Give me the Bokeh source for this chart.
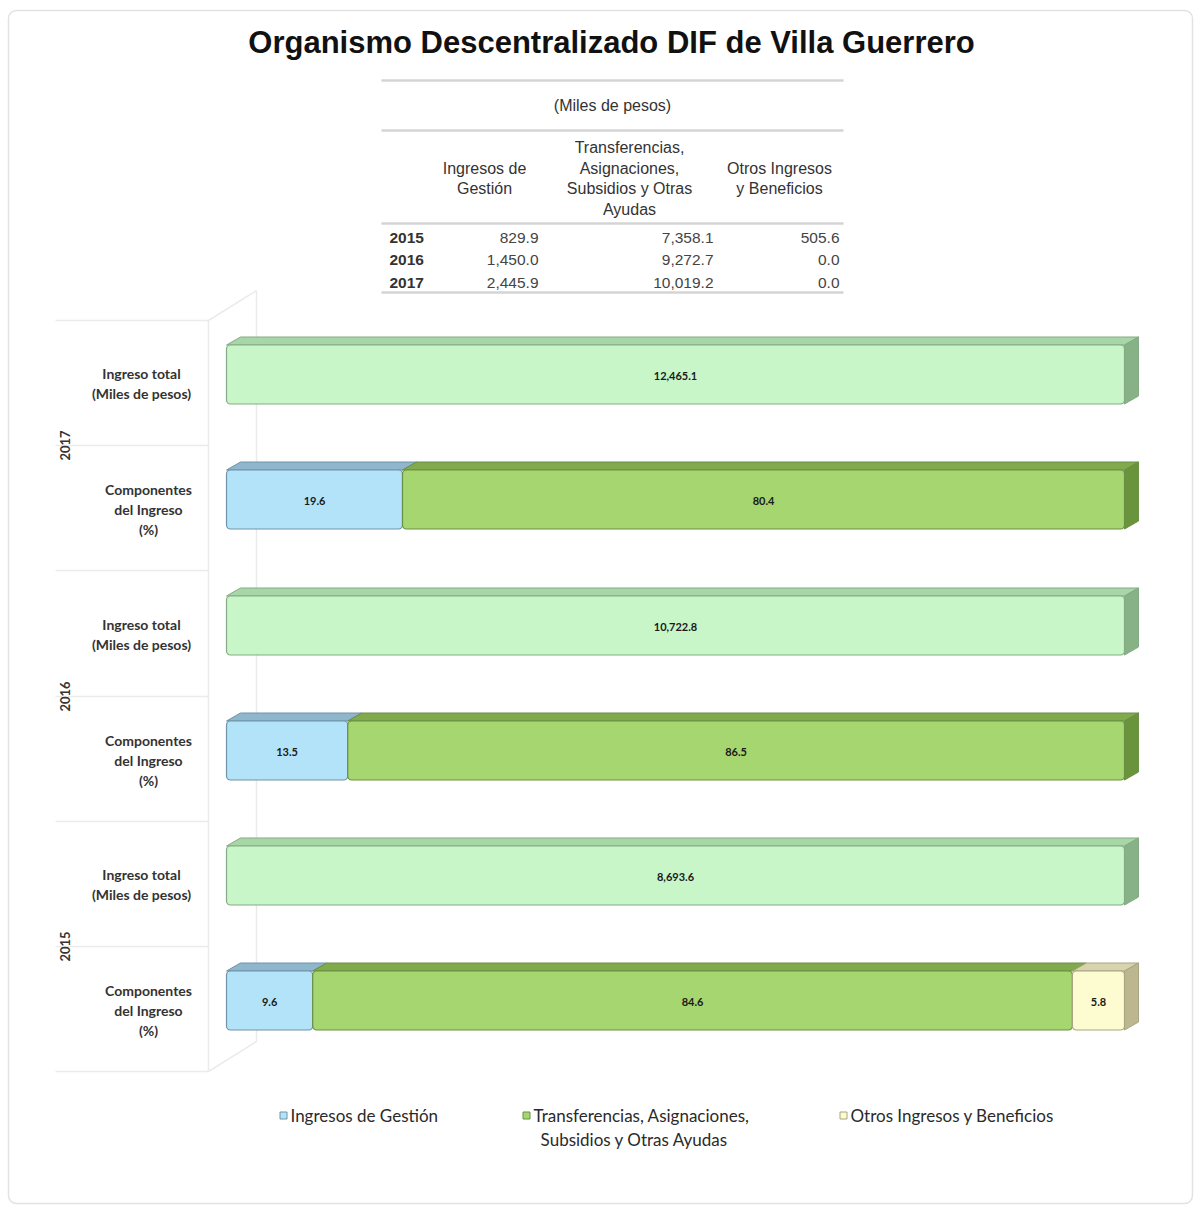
import math
from bokeh.plotting import figure
from bokeh.models import Range1d
from bokeh.core.properties import value
from bokeh.embed import file_html
from bokeh.resources import INLINE

# ---------------- data ----------------
title_text = "Organismo Descentralizado DIF de Villa Guerrero"
years = ["2015", "2016", "2017"]
ingresos_gestion = [829.9, 1450.0, 2445.9]
transferencias = [7358.1, 9272.7, 10019.2]
otros_ingresos = [505.6, 0.0, 0.0]
ingreso_total = [8693.6, 10722.8, 12465.1]
pct_gestion = [9.6, 13.5, 19.6]
pct_transferencias = [84.6, 86.5, 80.4]
pct_otros = [5.8, 0.0, 0.0]
table_unit = "(Miles de pesos)"
table_headers = ["Ingresos de\nGestión", "Transferencias,\nAsignaciones,\nSubsidios y Otras\nAyudas", "Otros Ingresos\ny Beneficios"]
row_labels = ["Ingreso total\n(Miles de pesos)", "Componentes\ndel Ingreso\n(%)"]
legend_labels = ["Ingresos de Gestión", "Transferencias, Asignaciones,", "Otros Ingresos y Beneficios"]
legend_line2 = "Subsidios y Otras Ayudas"

# ---------------- layout ----------------
W, H = 1198, 1207
OFF = 8
X0PX, X100PX = 218, 1116
PXU = (X100PX - X0PX) / 100.0


def X(fx):
    return (fx - X0PX) / PXU


DX = 14 / PXU
DY = 8
HALF = 29.5

p = figure(width=W, height=H, x_range=Range1d(X(-OFF), X(W - OFF)), y_range=Range1d(H - OFF, -OFF),
           output_backend="svg", toolbar_location=None, x_axis_type=None, y_axis_type=None,
           min_border=0)
p.outline_line_color = None
p.background_fill_color = "white"
p.border_fill_color = "white"
p.grid.visible = False

# panel border
p.quad(left=[X(0)], right=[X(1184)], top=[2], bottom=[1195], fill_color=None,
       line_color="#e2e2e2", line_width=1.5, border_radius=8)

# title
p.text(x=[X(603)], y=[34], text=[title_text], text_font=value("Liberation Sans"),
       text_font_style="bold", text_font_size="31px", text_align="center",
       text_baseline="middle", text_color="#111111")

# ---------------- table ----------------
tfont = value("Liberation Sans")
for fy in [72, 122, 215, 284]:
    p.segment(x0=[X(373)], x1=[X(835)], y0=[fy], y1=[fy], line_color="#d4d4d4", line_width=2.5)
p.text(x=[X(604)], y=[97], text=[table_unit], text_font=tfont,
       text_font_size="16px", text_align="center", text_baseline="middle", text_color="#333333")
p.text(x=[X(476), X(621), X(771)], y=[170, 170, 170], text=table_headers,
       text_font=tfont, text_font_size="16px", text_align="center",
       text_baseline="middle", text_color="#333333", text_line_height=1.2)
row_y = [229, 251, 274]
cols = [ingresos_gestion, transferencias, otros_ingresos]
col_right = [530, 705, 831]
p.text(x=[X(381)] * 3, y=row_y, text=years, text_font=tfont,
       text_font_style="bold", text_font_size="15.5px", text_align="left",
       text_baseline="middle", text_color="#333333")
for c, xr in zip(cols, col_right):
    p.text(x=[X(xr)] * 3, y=row_y, text=[f"{v:,.1f}" for v in c],
           text_font=tfont, text_font_size="15.5px", text_align="right",
           text_baseline="middle", text_color="#444444")

# ---------------- left grid (3D wall) ----------------
grid_c = "#ebebeb"
hy = [312, 437, 562, 688, 813, 938, 1063]
p.segment(x0=[X(47)] * len(hy), x1=[X(200)] * len(hy), y0=hy, y1=hy, line_color=grid_c, line_width=1.5)
p.segment(x0=[X(200), X(248), X(200), X(200)], x1=[X(200), X(248), X(248), X(248)],
          y0=[312, 282, 312, 1063], y1=[1063, 1033, 282, 1033], line_color=grid_c, line_width=1.5)

# ---------------- bars ----------------
y_total = {"2017": 366, "2016": 617, "2015": 867}
colors = {
    "total": ("#c8f6c8", "#a7d6a7", "#86b286", "#86a986"),
    "gest": ("#b3e3f8", "#8fb6cc", "#7aa0b6", "#6f93a8"),
    "transf": ("#a6d66f", "#80aa4c", "#6a943c", "#6a8f45"),
    "otros": ("#fdfbd0", "#d8d4ad", "#bdb78f", "#a9a482"),
}

fronts = dict(l=[], r=[], t=[], b=[], fc=[], lc=[])
tops = dict(xs=[], ys=[], fc=[], lc=[])
sides = dict(xs=[], ys=[], fc=[], lc=[])
labels = dict(x=[], y=[], t=[])

for i, yr in enumerate(years):
    yt_c = y_total[yr]
    yc_c = yt_c + 125
    rows = [
        (yt_c, [(100.0 * ingreso_total[i] / ingreso_total[i], "total", f"{ingreso_total[i]:,.1f}")]),
        (yc_c, [(pct_gestion[i], "gest", f"{pct_gestion[i]:.1f}"),
                (pct_transferencias[i], "transf", f"{pct_transferencias[i]:.1f}"),
                (pct_otros[i], "otros", f"{pct_otros[i]:.1f}")]),
    ]
    for yc, segs in rows:
        segs = [s for s in segs if s[0] > 0]
        start = 0.0
        yt, yb = yc - HALF, yc + HALF
        for k, (v, key, lab) in enumerate(segs):
            end = start + v
            f, tcol, scol, lcol = colors[key]
            tops["xs"].append([start, end, end + DX, start + DX])
            tops["ys"].append([yt, yt, yt - DY, yt - DY])
            tops["fc"].append(tcol)
            tops["lc"].append(lcol)
            if k == len(segs) - 1:
                sides["xs"].append([end, end + DX, end + DX, end])
                sides["ys"].append([yt, yt - DY, yb - DY, yb])
                sides["fc"].append(scol)
                sides["lc"].append(lcol)
            fronts["l"].append(start)
            fronts["r"].append(end)
            fronts["t"].append(yt)
            fronts["b"].append(yb)
            fronts["fc"].append(f)
            fronts["lc"].append(lcol)
            labels["x"].append((start + end) / 2)
            labels["y"].append(yc + 1)
            labels["t"].append(lab)
            start = end

p.patches(xs=tops["xs"], ys=tops["ys"], fill_color=tops["fc"], line_color=tops["lc"], line_width=1)
p.patches(xs=sides["xs"], ys=sides["ys"], fill_color=sides["fc"], line_color=sides["lc"], line_width=1)
p.quad(left=fronts["l"], right=fronts["r"], top=fronts["t"], bottom=fronts["b"],
       fill_color=fronts["fc"], line_color=fronts["lc"], line_width=1.2, border_radius=4)
p.text(x=labels["x"], y=labels["y"], text=labels["t"], text_font=value("Lato"),
       text_font_style="bold", text_font_size="11px", text_align="center",
       text_baseline="middle", text_color="#1a1a1a")

# row labels and years
for yr in years:
    yt_c = y_total[yr]
    p.text(x=[X(133)], y=[yt_c + 9], text=[row_labels[0]], text_font=value("Lato"),
           text_font_style="bold", text_font_size="14px", text_align="center",
           text_baseline="middle", text_color="#333333", text_line_height=1.15)
    p.text(x=[X(140)], y=[yt_c + 135], text=[row_labels[1]], text_font=value("Lato"),
           text_font_style="bold", text_font_size="14px", text_align="center",
           text_baseline="middle", text_color="#333333", text_line_height=1.15)
    p.text(x=[X(56)], y=[yt_c + 71], text=[yr], text_font=value("Lato"),
           text_font_style="bold", text_font_size="13px", text_align="center",
           text_baseline="middle", text_color="#333333", angle=math.pi / 2)

# ---------------- legend ----------------
leg_mx = [275, 518, 835]
leg_colors = [colors["gest"][0], colors["transf"][0], colors["otros"][0]]
leg_lines = [colors["gest"][3], colors["transf"][3], colors["otros"][3]]
p.scatter(x=[X(v) for v in leg_mx], y=[1107] * 3, marker="square", size=7,
          fill_color=leg_colors, line_color=leg_lines)
p.text(x=[X(v + 7) for v in leg_mx], y=[1107] * 3, text=legend_labels, text_font=value("Lato"),
       text_font_size="17px", text_align="left", text_baseline="middle", text_color="#2a2a2a")
p.text(x=[X(626)], y=[1131], text=[legend_line2], text_font=value("Lato"),
       text_font_size="17px", text_align="center", text_baseline="middle", text_color="#2a2a2a")

open("out.html", "w").write(file_html(p, INLINE))
